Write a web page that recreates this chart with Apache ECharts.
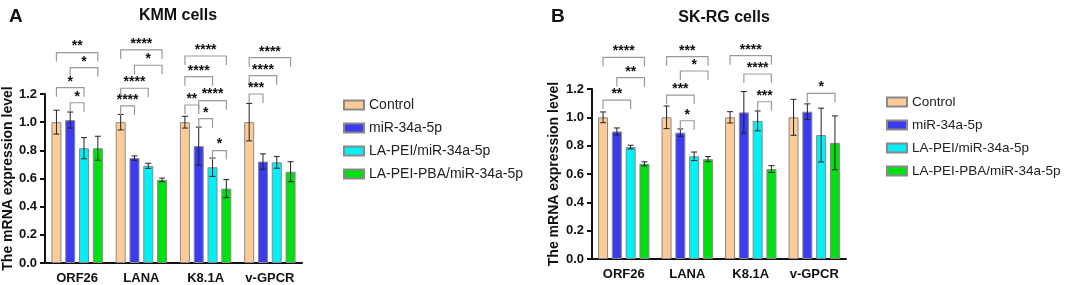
<!DOCTYPE html>
<html>
<head>
    <meta charset="UTF-8"/>
    <title>mRNA expression</title>
    <script src="https://cdn.jsdelivr.net/npm/echarts@6/dist/echarts.min.js"></script>
    <style>
        html, body { margin: 0; padding: 0; background: #fff; }
        #charts { width: 1065px; height: 285px; }
    </style>
</head>
<body>
<div id="charts"></div>
<script>
    var categories = ['ORF26', 'LANA', 'K8.1A', 'v-GPCR'];
    var groups = ['Control', 'miR-34a-5p', 'LA-PEI/miR-34a-5p', 'LA-PEI-PBA/miR-34a-5p'];
    var yTicks = [0, 0.2, 0.4, 0.6, 0.8, 1.0, 1.2];

    // KMM cells: mean and SD, one array per group (ORF26, LANA, K8.1A, v-GPCR)
    var kmmControl = [1.00, 1.00, 1.00, 1.00];
    var kmmMir = [1.015, 0.745, 0.83, 0.72];
    var kmmLaPei = [0.815, 0.69, 0.68, 0.715];
    var kmmPba = [0.815, 0.59, 0.528, 0.648];
    var kmmControlSd = [0.085, 0.055, 0.042, 0.133];
    var kmmMirSd = [0.057, 0.015, 0.135, 0.055];
    var kmmLaPeiSd = [0.075, 0.018, 0.065, 0.042];
    var kmmPbaSd = [0.085, 0.013, 0.064, 0.071];

    // SK-RG cells
    var skrgControl = [1.00, 1.00, 1.00, 1.00];
    var skrgMir = [0.9, 0.892, 1.035, 1.04];
    var skrgLaPei = [0.79, 0.725, 0.975, 0.875];
    var skrgPba = [0.672, 0.705, 0.635, 0.82];
    var skrgControlSd = [0.038, 0.08, 0.04, 0.127];
    var skrgMirSd = [0.025, 0.026, 0.147, 0.055];
    var skrgLaPeiSd = [0.013, 0.03, 0.07, 0.19];
    var skrgPbaSd = [0.014, 0.018, 0.024, 0.19];

    // significance brackets: [category, from bar, to bar, height, stars]
    var kmmBrackets = [
        [0, 0, 3, 1.494, '**'], [0, 1, 3, 1.387, '*'], [0, 0, 2, 1.245, '*'], [0, 1, 2, 1.138, '*'],
        [1, 0, 3, 1.513, '****'], [1, 1, 3, 1.404, '*'], [1, 0, 2, 1.241, '****'], [1, 0, 1, 1.115, '****'],
        [2, 0, 3, 1.47, '****'], [2, 0, 2, 1.323, '****'], [2, 0, 1, 1.122, '**'], [2, 1, 3, 1.153, '****'],
        [2, 1, 2, 1.025, '*'], [2, 2, 3, 0.798, '*'],
        [3, 0, 3, 1.458, '****'], [3, 0, 2, 1.33, '****'], [3, 0, 1, 1.2, '***']
    ];
    var skrgBrackets = [
        [0, 0, 3, 1.423, '****'], [0, 1, 3, 1.28, '**'], [0, 0, 2, 1.122, '**'],
        [1, 0, 3, 1.428, '***'], [1, 1, 3, 1.327, '*'], [1, 0, 2, 1.157, '***'], [1, 1, 2, 0.976, '*'],
        [2, 0, 3, 1.435, '****'], [2, 1, 3, 1.306, '****'], [2, 2, 3, 1.11, '***'],
        [3, 1, 3, 1.169, '*']
    ];

    var colors = ['#fccb98', '#3b3bf2', '#00f0f6', '#00e010'];
    var font = 'Liberation Sans, Arial, sans-serif';
    var barW = 10, barGapPct = 38;
    var step = barW * (1 + barGapPct / 100);

    var panels = [
        {means: [kmmControl, kmmMir, kmmLaPei, kmmPba], sds: [kmmControlSd, kmmMirSd, kmmLaPeiSd, kmmPbaSd], brackets: kmmBrackets},
        {means: [skrgControl, skrgMir, skrgLaPei, skrgPba], sds: [skrgControlSd, skrgMirSd, skrgLaPeiSd, skrgPbaSd], brackets: skrgBrackets}
    ];

    var myChart = echarts.init(document.getElementById('charts'));

    function xAxisOpt(i) {
        return {
            type: 'category', gridIndex: i, data: categories,
            axisLine: {lineStyle: {color: '#111', width: 2}},
            axisTick: {alignWithLabel: true, length: 5, lineStyle: {color: '#111', width: 2}},
            axisLabel: {color: '#111', fontWeight: 'bold', fontSize: 13, fontFamily: font, margin: 9, interval: 0}
        };
    }

    function yAxisOpt(i, gap) {
        return {
            type: 'value', gridIndex: i, min: 0, max: 1.2, interval: 0.2,
            name: 'The mRNA expression level', nameLocation: 'middle', nameGap: gap,
            nameTextStyle: {color: '#111', fontWeight: 'bold', fontSize: 14, fontFamily: font},
            axisLine: {show: true, lineStyle: {color: '#111', width: 2}},
            axisTick: {show: true, length: 5, lineStyle: {color: '#111', width: 2}},
            splitLine: {show: false},
            axisLabel: {
                color: '#111', fontWeight: 'bold', fontSize: 13, fontFamily: font, margin: 8,
                formatter: function (v) { return v.toFixed(1); }
            }
        };
    }

    var series = [];
    panels.forEach(function (p, g) {
        groups.forEach(function (name, i) {
            series.push({
                name: name, type: 'bar', xAxisIndex: g, yAxisIndex: g,
                barWidth: barW, barGap: barGapPct + '%',
                itemStyle: {color: colors[i], borderColor: '#8a8a8a', borderWidth: 1},
                data: p.means[i]
            });
        });

        // error bars
        var errData = [];
        categories.forEach(function (c, ci) {
            for (var i = 0; i < 4; i++) {
                errData.push([ci, i, p.means[i][ci], p.sds[i][ci]]);
            }
        });
        series.push({
            type: 'custom', xAxisIndex: g, yAxisIndex: g, silent: true, z: 5,
            data: errData,
            renderItem: function (params, api) {
                var ci = api.value(0), i = api.value(1), m = api.value(2), s = api.value(3);
                var x = api.coord([ci, 0])[0] + (i - 1.5) * step;
                var yt = api.coord([ci, m + s])[1];
                var yb = api.coord([ci, m - s])[1];
                var st = {stroke: '#222', lineWidth: 1};
                return {
                    type: 'group', children: [
                        {type: 'line', shape: {x1: x, y1: yt, x2: x, y2: yb}, style: st},
                        {type: 'line', shape: {x1: x - 3, y1: yt, x2: x + 3, y2: yt}, style: st},
                        {type: 'line', shape: {x1: x - 3, y1: yb, x2: x + 3, y2: yb}, style: st}
                    ]
                };
            }
        });

        // significance brackets
        series.push({
            type: 'custom', xAxisIndex: g, yAxisIndex: g, silent: true, clip: false, z: 6,
            data: p.brackets.map(function (b) { return [b[0], b[1], b[2], b[3]]; }),
            renderItem: function (params, api) {
                var b = p.brackets[params.dataIndex];
                var cx = api.coord([b[0], 0])[0];
                var x1 = cx + (b[1] - 1.5) * step;
                var x2 = cx + (b[2] - 1.5) * step;
                var y = api.coord([b[0], b[3]])[1];
                var st = {stroke: '#9a9a9a', lineWidth: 1.2, fill: null};
                return {
                    type: 'group', children: [
                        {type: 'polyline', shape: {points: [[x1, y + 9], [x1, y], [x2, y], [x2, y + 9]]}, style: st},
                        {
                            type: 'text', x: (x1 + x2) / 2, y: y - 6,
                            style: {
                                text: b[4], align: 'center', verticalAlign: 'middle',
                                fill: '#111', font: 'bold 14px ' + font
                            }
                        }
                    ]
                };
            }
        });
    });

    function legendOpt(left, top, size) {
        return {
            data: groups, orient: 'vertical', left: left, top: top,
            itemWidth: 20, itemHeight: 9, itemGap: 9,
            icon: 'rect', selectedMode: false,
            textStyle: {color: '#222', fontSize: size, fontFamily: font}
        };
    }

    var option = {
        animation: false,
        title: [
            {text: 'A', left: 4, top: 2, textStyle: {fontSize: 19, fontWeight: 'bold', color: '#111', fontFamily: font}},
            {text: 'KMM cells', left: 173, top: 3, textAlign: 'center', textStyle: {fontSize: 16, fontWeight: 'bold', color: '#111', fontFamily: font}},
            {text: 'B', left: 546, top: 2, textStyle: {fontSize: 19, fontWeight: 'bold', color: '#111', fontFamily: font}},
            {text: 'SK-RG cells', left: 719, top: 5, textAlign: 'center', textStyle: {fontSize: 16, fontWeight: 'bold', color: '#111', fontFamily: font}}
        ],
        legend: [
            legendOpt(338, 93, 14),
            legendOpt(881, 90, 13.5)
        ],
        grid: [
            {left: 45, top: 94, width: 257, height: 169},
            {left: 592, top: 89, width: 254, height: 170}
        ],
        xAxis: [xAxisOpt(0), xAxisOpt(1)],
        yAxis: [yAxisOpt(0, 25), yAxisOpt(1, 31)],
        series: series
    };

    myChart.setOption(option);
</script>
</body>
</html>
